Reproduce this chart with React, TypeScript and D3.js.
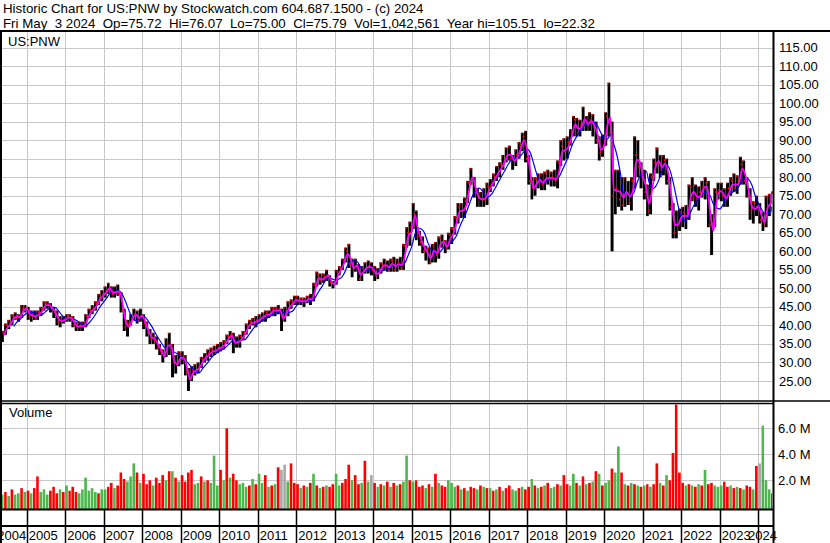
import React from "react";
import * as d3 from "d3";

// monthly bars, May 2004 .. May 2024 (last month = May 1-3)
const startYear = 2004;
const startMonth = 4; // May
const lastDay = new Date(2024, 4, 3);

const highs = [
  38.5, 40.5, 41.5, 43, 43.5, 43, 45.5, 45.5,
  45, 44, 44, 44, 45, 46.5, 46.5, 46, 45, 44, 42.5, 42.5,
  43, 43, 42.5, 41, 41, 41, 43, 44.5, 45.5, 46.5, 48.5, 49.5,
  50.5, 51.5, 50.5, 50.5, 51, 49, 44.5, 41.5, 43, 44.5, 44, 44.5,
  43, 41, 39, 38, 37, 35, 33.5, 36.5, 38, 35, 32, 33,
  33, 32, 28.5, 29, 29.5, 30, 31.5, 32.5, 33.5, 34, 34.5, 35,
  35.5, 36, 37.5, 38.5, 38, 37, 37.5, 38.5, 40.5, 41.5, 42, 42.5,
  43, 43.5, 44, 44, 45, 45, 45.5, 44.5, 45, 46.5, 47, 48,
  48, 47.5, 47.5, 48, 48.5, 51.5, 54.5, 54, 54, 55, 53.5, 52,
  55, 56, 58, 61, 62, 58, 58, 56.5, 56, 57, 57.5, 57,
  56, 55.5, 57, 58, 57.5, 58, 58.5, 58, 58.5, 62, 66.5, 68,
  73, 71, 65.5, 64, 61.5, 61, 62, 62.5, 64, 64.5, 63, 65,
  66.5, 69.5, 73, 73, 74.5, 79, 82.5, 80, 77, 76, 77, 78.5,
  79.5, 81, 83, 84, 86, 88, 88.5, 86, 87.5, 89.5, 92, 92.5,
  86, 80, 80, 81, 81, 81.5, 82, 81.5, 82, 84.5, 90, 90.5,
  91, 93, 96.5, 96, 95.5, 99, 96.5, 97.5, 97, 95, 91, 91.5,
  97.5, 105.5, 95, 82, 82, 80, 80, 79, 80, 91, 90, 84,
  82, 78, 81, 85, 88, 86, 86, 85, 80, 73, 71, 71.5,
  72, 72.5, 78, 80, 78, 77.5, 79, 80, 79, 70, 77, 78.5,
  78.5, 77, 78.5, 80, 81, 80.5, 85.5, 84.5, 80, 77, 73.5, 75,
  73, 70.5, 75, 75.5, 76.1,
];

const lows = [
  35.5, 37.5, 39, 40, 41.5, 41, 42, 43.5,
  41.5, 41, 41.5, 41.5, 42.5, 44, 44.5, 43.5, 42, 40, 39.5, 40.5,
  41, 41, 39.5, 38.5, 38.5, 38.5, 39.5, 42, 43, 44, 45.5, 46.5,
  47.5, 48.5, 47.5, 47.5, 48, 43.5, 38.5, 37, 40, 41.5, 40.5, 41,
  39, 37, 35, 35, 33.5, 32, 30, 31.5, 32, 26, 27, 29,
  29.5, 26.5, 22.3, 25, 26.5, 27, 28.5, 30, 30.5, 31.5, 32, 32.5,
  33, 33.5, 35, 36, 32.5, 34, 34, 36, 37.5, 39, 40, 39.5,
  40.5, 41, 41, 42, 42.5, 42.5, 43, 38.5, 41, 42.5, 44.5, 45.5,
  45.5, 45.5, 45, 46, 45.5, 46.5, 50.5, 51, 51.5, 52, 50.5, 50,
  51, 53.5, 55, 57, 55.5, 53, 54.5, 52, 52, 54, 54, 53.5,
  52, 52.5, 54, 55, 54.5, 54.5, 54.5, 54.5, 55, 55, 61, 61.5,
  66, 63, 61.5, 59.5, 57.5, 56.5, 57, 57, 58, 61, 59.5, 60.5,
  62, 64.5, 67.5, 69, 69, 73, 78, 74.5, 72, 72, 72, 72.5,
  76, 77.5, 79, 80, 82, 84, 84.5, 82, 83, 85, 87, 84,
  78, 74, 75, 77, 76.5, 76.5, 78, 77.5, 77.5, 77, 83, 84.5,
  85, 88.5, 91, 91, 91, 92.5, 92.5, 92.5, 91, 89, 84.5, 85.5,
  88.5, 91, 60, 70, 72, 71, 72, 72.5, 71, 77, 80, 77,
  74, 69.5, 70, 79, 81, 80, 80.5, 78, 71, 63.5, 63.5, 65.5,
  66.5, 66, 68.5, 73.5, 72, 71, 74.5, 74, 66.5, 59, 66.5, 74,
  73.5, 72, 72, 75, 76, 75.5, 78, 78, 74.5, 68.5, 67.5, 69.5,
  67.5, 65.5, 66.5, 69.5, 75,
];

const closes = [
  38, 40, 40.5, 42.5, 42, 42.5, 44.5, 44.5,
  42.5, 43, 42, 43.5, 44.5, 46, 45.5, 44.5, 43.5, 41, 41.5, 41.5,
  42.5, 42, 40, 39.5, 40, 40, 42.5, 44, 44.5, 46, 47.5, 48.5,
  49.5, 50, 48.5, 49, 48.5, 44, 39.5, 40.5, 42, 43, 41.5, 42.5,
  40.5, 38, 36.5, 36, 34, 33, 31.5, 35.5, 34, 30, 29.5, 32,
  31, 27.5, 25.5, 28, 27.5, 29, 31, 31.5, 32.5, 33.5, 33, 34,
  34, 35.5, 37, 37.5, 35.5, 35.5, 37, 38, 40, 41, 40.5, 41.5,
  42, 42.5, 43.5, 43, 44.5, 44.5, 44, 42.5, 43.5, 46, 46, 47,
  46.5, 46.5, 47, 47.5, 47, 51, 53.5, 52, 53, 53.5, 51.5, 51,
  54.5, 55.5, 57.5, 60, 56.5, 55.5, 56, 52.5, 55.5, 55.5, 56, 55,
  53.5, 55, 56.5, 56, 55, 57.5, 55, 57, 55.5, 61.5, 65, 66.5,
  70, 64, 62.5, 60, 60, 57, 61.5, 59, 63.5, 62.5, 61, 64.5,
  66, 69, 72, 71, 73.5, 78.5, 79.5, 76, 74.5, 74, 74, 77.5,
  78, 80, 81, 83.5, 84, 86, 85, 85, 86, 88.5, 91, 85,
  79, 77, 79.5, 80, 78, 81, 79.5, 80, 79, 84, 88.5, 87,
  89.5, 92, 95.5, 92, 94, 95.5, 94, 95.5, 93.5, 90, 86.5, 88.5,
  96.5, 92, 75, 77, 74, 72.5, 76, 73, 79, 86, 83, 80,
  76, 71, 80, 84, 84, 82, 84.5, 79, 72, 65, 67, 70.5,
  70.5, 69.5, 77.5, 74.5, 74, 76, 77.5, 78.5, 67, 67.5, 76, 76.5,
  75, 74, 77, 79, 77, 79, 83.5, 79, 75, 71, 73, 72,
  68.5, 67.5, 74.5, 74, 75.8,
];

// volume in millions of shares
const volumes = [
  0.9, 1.1, 0.8, 1.3, 0.9, 1.0, 1.4, 1.1,
  1.2, 1.0, 1.4, 2.3, 1.1, 1.3, 0.9, 1.2, 1.5, 1.0, 1.3, 1.1,
  1.6, 1.2, 1.5, 1.1, 1.0, 1.3, 2.2, 1.2, 1.4, 1.1, 1.0, 1.3,
  1.3, 1.5, 1.8, 1.4, 1.6, 2.6, 2.1, 1.9, 2.3, 3.3, 2.6, 1.8,
  2.5, 1.7, 2.0, 1.6, 2.2, 1.8, 2.4, 2.0, 2.7, 2.7, 2.2, 1.9,
  2.4, 1.9, 2.6, 2.8, 1.7, 1.8, 2.3, 1.9, 2.0, 1.8, 3.9, 1.6,
  2.8, 2.0, 6.0, 2.2, 2.5, 2.0, 1.7, 1.8, 1.5, 1.6, 2.1, 1.7,
  2.5, 1.8, 2.4, 1.5, 1.6, 1.7, 3.0, 2.8, 3.2, 1.9, 3.3, 1.8,
  1.7, 1.4, 1.6, 1.5, 1.8, 2.5, 1.6, 1.4, 1.5, 1.6, 1.5, 1.7,
  2.5, 1.6, 1.8, 2.1, 3.2, 2.0, 2.4, 1.7, 1.8, 3.5, 1.9, 2.4,
  1.8, 1.5, 1.7, 1.6, 1.9, 1.5, 1.8, 1.6, 1.7, 1.9, 3.9, 2.0,
  1.9, 2.0, 1.5, 1.6, 1.4, 1.7, 1.5, 2.5, 1.8, 1.6, 1.5, 2.0,
  1.8, 1.5, 1.6, 1.3, 1.4, 1.2, 1.5, 1.4, 1.3, 1.6, 1.5, 1.4,
  1.4, 1.2, 1.3, 1.5, 1.2, 1.4, 1.6, 1.3, 1.2, 1.4, 1.5, 1.3,
  1.5, 2.1, 1.6, 1.4, 1.5, 1.6, 1.8, 1.4, 1.5, 1.7, 1.6, 2.4,
  1.7, 1.6, 2.5, 1.8, 1.6, 2.3, 1.7, 1.8, 1.9, 2.7, 2.5, 1.6,
  1.8, 2.0, 2.9, 2.6, 4.6, 2.6, 1.7, 1.6, 1.8, 1.7, 1.6, 1.5,
  1.6, 1.7, 1.5, 1.7, 3.3, 1.8, 1.6, 2.4, 2.0, 4.1, 8.5, 2.6,
  1.8, 1.6, 1.7, 1.6, 1.5, 1.7, 1.6, 2.8, 1.7, 1.8, 1.6, 1.5,
  1.6, 1.9, 1.5, 1.6, 1.4, 1.5, 1.4, 1.3, 1.6, 1.5, 1.3, 3.1,
  3.3, 6.2, 2.0, 1.3, 1.0,
];

// g = up, r = down, n = unchanged
const volumeDir = (
  "grgrggrg" +
  "rgrrgggrrrgr" +
  "grrrggggggrg" +
  "grrgrrrgggrg" +
  "rrrgrrrgrgrg" +
  "rrrrggrgrggg" +
  "rgrgrrgggrgr" +
  "ggrgrgrnngr" + "r" +
  "rgrgrgrgrgrr" +
  "ggrrrgrrgrgn" +
  "rgrgrgrgrggr" +
  "grrrgrgrgrrg" +
  "ggrgrgrrgrgr" +
  "grgrgrrggrgr" +
  "rgrgrgrggrgr" +
  "rggrgrgrgrgr" +
  "ggrggrgrgrgr" +
  "grgrrgrgrrrr" +
  "rgrgrgrgrrgg" +
  "grrgrgrgrrgr" +
  "ngggr"
).split("");

const priceTicks = d3.range(25, 115.01, 5);
const volumeTicks = [2, 4, 6];
const years = d3.range(2004, 2025);

const headerLine1 = "Historic Chart for US:PNW by Stockwatch.com 604.687.1500 - (c) 2024";
const headerLine2 =
  "Fri May  3 2024  Op=75.72  Hi=76.07  Lo=75.00  Cl=75.79  Vol=1,042,561  Year hi=105.51  lo=22.32";

const W = 830;
const H = 543;
const axisX = 773.5;
const priceTop = 32;
const priceBottom = 401;
const volTop = 403.5;
const volBase = 509;
const rowMid = 526;
const font = "'Liberation Sans', Arial, sans-serif";
const grid = "#c8c8c8";
const green = "#4cb84c";
const red = "#ff0000";

export default function App() {
  const x = d3
    .scaleTime()
    .domain([new Date(2005, 0, 1), new Date(2024, 0, 1)])
    .range([26.7, 758.3]);
  const y = d3.scaleLinear().domain([25, 115]).range([381, 47.5]);
  const vy = d3.scaleLinear().domain([0, 6]).range([506.3, 428.3]);

  const bars = closes.map((c, i) => {
    const start = new Date(startYear, startMonth + i, 1);
    const mid = new Date(startYear, startMonth + i, 15);
    const end = new Date(startYear, startMonth + i + 1, 1);
    return {
      start,
      mid: mid > lastDay ? lastDay : mid,
      end: end > lastDay ? lastDay : end,
      h: highs[i],
      l: lows[i],
      c,
      v: volumes[i],
      dir: volumeDir[i],
    };
  });

  // moving averages taken from the monthly bars
  const typ = bars.map((b) => (b.h + b.l + b.c) / 3);
  const fastMa = bars.map((b, i) => ({ d: b.end, v: typ[i] }));
  const slowMa = bars
    .map((b, i) => ({ d: b.end, v: i > 2 ? d3.mean(typ.slice(i - 3, i + 1)) : NaN }))
    .filter((p) => !isNaN(p.v));

  const line = d3
    .line<{ d: Date; v: number }>()
    .x((p) => x(p.d))
    .y((p) => y(p.v))
    .curve(d3.curveMonotoneX);

  return (
    <svg width={W} height={H} style={{ display: "block", background: "#fff" }} fontFamily={font}>
      <style>{`body{margin:0}`}</style>
      <defs>
        <clipPath id="pclip">
          <rect x={1.5} y={priceTop} width={axisX - 2} height={priceBottom - priceTop - 1} />
        </clipPath>
        <clipPath id="vclip">
          <rect x={1.5} y={volTop + 1} width={axisX - 2} height={volBase - volTop - 1} />
        </clipPath>
      </defs>
      <rect x={0} y={0} width={W} height={H} fill="#fff" />

      {/* header */}
      <text x={3} y={13} fontSize={13.3} fill="#000">{headerLine1}</text>
      <text x={3} y={27.5} fontSize={13.3} fill="#000" style={{ whiteSpace: "pre" }}>
        {headerLine2}
      </text>

      {/* grid */}
      <g stroke={grid} strokeWidth={1}>
        {priceTicks.map((t) => (
          <line key={t} x1={1} x2={axisX} y1={Math.round(y(t)) + 0.5} y2={Math.round(y(t)) + 0.5} />
        ))}
        {volumeTicks.map((t) => (
          <line key={t} x1={1} x2={axisX} y1={Math.round(vy(t)) + 0.5} y2={Math.round(vy(t)) + 0.5} />
        ))}
        {years.slice(1).map((yr) => {
          const xx = Math.round(x(new Date(yr, 0, 1))) + 0.5;
          return (
            <g key={yr}>
              <line x1={xx} x2={xx} y1={priceTop} y2={priceBottom} />
              <line x1={xx} x2={xx} y1={volTop} y2={volBase} />
            </g>
          );
        })}
      </g>

      {/* price bars */}
      <g clipPath="url(#pclip)">
        {bars.map((b, i) => {
          const x0 = x(b.start);
          const x1 = x(b.end);
          return (
            <rect key={i} x={x0} y={y(b.h)} width={Math.max(1, x1 - x0 - 0.3)} height={y(b.l) - y(b.h)} fill="#000" />
          );
        })}
        {bars.map((b, i) => (
          <rect key={"c" + i} x={x(b.mid) + 0.3} y={y(b.c) - 1} width={1.8} height={2} fill={red} />
        ))}
        {bars.map((b, i) => (
          <rect key={"h" + i} x={x(b.start)} y={y(b.h)} width={1.5} height={1.5} fill={red} />
        ))}
        <path d={line(slowMa) || ""} fill="none" stroke="#0000ff" strokeWidth={1.2} />
        <path d={line(fastMa) || ""} fill="none" stroke="#ff00ff" strokeWidth={1.8} />
      </g>

      {/* volume bars */}
      <g clipPath="url(#vclip)">
        {bars.map((b, i) => {
          const x0 = x(b.start);
          const x1 = x(b.end);
          return (
            <rect
              key={i}
              x={x0}
              y={vy(b.v)}
              width={Math.max(1, x1 - x0 - 0.6)}
              height={volBase - vy(b.v)}
              fill={b.dir === "g" ? green : b.dir === "r" ? red : "#a8a8a8"}
            />
          );
        })}
      </g>

      {/* frame */}
      <g stroke="#000">
        <line x1={0} x2={W} y1={31} y2={31} strokeWidth={2} />
        <line x1={1} x2={1} y1={31} y2={H} strokeWidth={2} />
        <line x1={axisX} x2={axisX} y1={31} y2={H} strokeWidth={2} />
        <line x1={0} x2={W} y1={priceBottom} y2={priceBottom} strokeWidth={1.5} />
        <line x1={0} x2={axisX} y1={volTop} y2={volTop} strokeWidth={1.5} />
        <line x1={0} x2={axisX} y1={volBase + 0.5} y2={volBase + 0.5} strokeWidth={2} />
        <line x1={0} x2={axisX} y1={rowMid} y2={rowMid} strokeWidth={2} />
        {years.slice(1).map((yr) => {
          const xx = Math.round(x(new Date(yr, 0, 1))) + 0.5;
          return <line key={yr} x1={xx} x2={xx} y1={volBase} y2={H} strokeWidth={1.5} />;
        })}
      </g>

      {/* labels */}
      <text x={8} y={46} fontSize={13} fill="#000">US:PNW</text>
      <text x={9} y={417} fontSize={13} fill="#000">Volume</text>

      {priceTicks.map((t) => (
        <text key={t} x={779} y={y(t)} dy="0.35em" fontSize={13} fill="#000">
          {t.toFixed(2)}
        </text>
      ))}
      {volumeTicks.map((t) => (
        <text key={t} x={778} y={vy(t)} dy="0.35em" fontSize={13} fill="#000">
          {t.toFixed(1) + " M"}
        </text>
      ))}

      {years.map((yr, i) => {
        const sx = x(new Date(yr, 0, 1));
        if (i === 0) {
          return (
            <text key={yr} x={x(new Date(yr + 1, 0, 1)) - 0.5} y={539.5} fontSize={13} textAnchor="end">
              {yr}
            </text>
          );
        }
        if (yr === 2024) {
          return (
            <text key={yr} x={777} y={539.5} fontSize={13} textAnchor="end">
              {yr}
            </text>
          );
        }
        return (
          <text key={yr} x={sx + 2} y={539.5} fontSize={13}>
            {yr}
          </text>
        );
      })}
    </svg>
  );
}
